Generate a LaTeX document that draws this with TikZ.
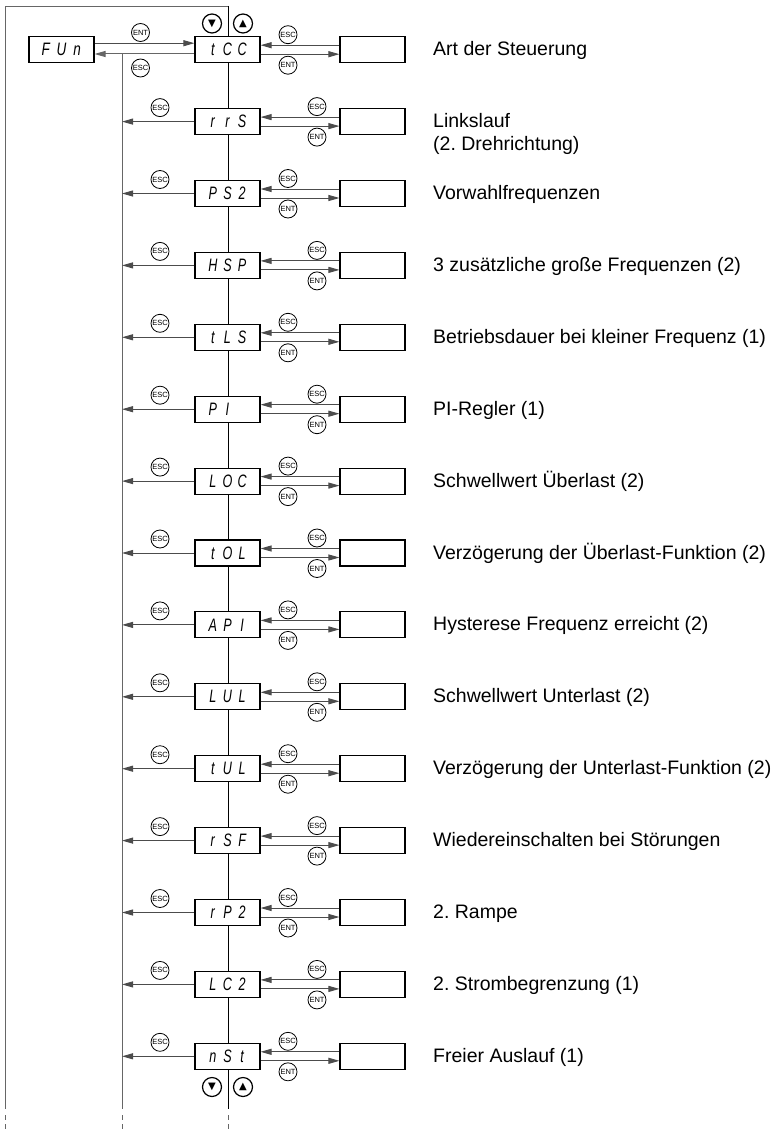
\documentclass[tikz,border=0pt]{standalone}
\usepackage{fontspec}
\setmainfont{Liberation Sans}
\newfontfamily\symfont{DejaVu Sans}
\usetikzlibrary{arrows.meta}
\frenchspacing
\newcommand\segd[3]{\scalebox{0.7}[1]{\itshape\makebox[21pt]{#1}\makebox[21pt]{#2}\makebox[21pt]{#3}}}
\tikzset{
  disp/.style={draw=black, line width=1.1pt, fill=white, minimum width=65pt, minimum height=26pt, inner sep=0pt, font=\fontsize{18}{18}\selectfont},
  rbox/.style={draw=black, line width=1.1pt, fill=white, minimum width=65pt, minimum height=26pt, inner sep=0pt},
  keyc/.style={circle, draw=black, line width=0.8pt, fill=white, minimum size=18pt, inner sep=0pt, font=\fontsize{7.5}{7.5}\selectfont},
  navc/.style={circle, draw=black, line width=1.2pt, fill=white, minimum size=19pt, inner sep=0pt, font=\symfont\fontsize{10}{10}\selectfont},
  arr/.style={draw=black!70, line width=1pt, -{Triangle[length=11pt,width=6pt]}},
  frame/.style={draw=black!60, line width=0.9pt},
  mainline/.style={draw=black, line width=0.9pt},
  lab/.style={anchor=base west, inner sep=0pt, font=\fontsize{19.5}{23}\selectfont}
}
\begin{document}
\begin{tikzpicture}[x=1pt,y=-1pt]
\useasboundingbox (0,0) rectangle (782,1129);
% frame lines
\draw[frame] (5.5,1109) -- (5.5,6) -- (228,6);
\draw[mainline] (228,6) -- (228,1109);
\draw[frame] (122,54) -- (122,1109);
\foreach \xx in {5.5,122,228}{
  \draw[frame] (\xx,1115) -- (\xx,1119.5);
  \draw[frame] (\xx,1124) -- (\xx,1129);
}
% FUn box
\node[disp] (fun) at (61.5,49.7) {\scalebox{1.07}[1]{\segd{F}{U}{n}}};
% rows
\foreach \k/\a/\b/\c/\cx/\lab in {
 0/t/C/C/288/{Art der Steuerung},
 1/r/r/S/317/{\begin{tabular}[t]{@{}l@{}}Linkslauf\\(2. Drehrichtung)\end{tabular}},
 2/P/S/2/288/{Vorwahlfrequenzen},
 3/H/S/P/317/{3 zusätzliche große Frequenzen (2)},
 4/t/L/S/288/{Betriebsdauer bei kleiner Frequenz (1)},
 5/P/I/{}/317/{PI-Regler (1)},
 6/L/O/C/288/{Schwellwert Überlast (2)},
 7/t/O/L/317/{Verzögerung der Überlast-Funktion (2)},
 8/A/P/I/288/{Hysterese Frequenz erreicht (2)},
 9/L/U/L/317/{Schwellwert Unterlast (2)},
 10/t/U/L/288/{Verzögerung der Unterlast-Funktion (2)},
 11/r/S/F/317/{Wiedereinschalten bei Störungen},
 12/r/P/2/288/{2. Rampe},
 13/L/C/2/317/{2. Strombegrenzung (1)},
 14/n/S/t/288/{Freier Auslauf (1)}}{
  \pgfmathsetmacro\yc{49.7+71.9*\k}
  \node[disp] (d\k) at (227.5,\yc) {\segd{\a}{\b}{\c}};
  \node[rbox] (r\k) at (372.5,\yc) {};
  \draw[arr] ([yshift=4.5pt]r\k.west) -- ([yshift=4.5pt]d\k.east);
  \draw[arr] ([yshift=-4.5pt]d\k.east) -- ([yshift=-4.5pt]r\k.west);
  \node[keyc] (esc\k) at (\cx,\yc-15) {ESC};
  \node[keyc] (ent\k) at (\cx,\yc+15.5) {ENT};
  \node[lab] (t\k) at (433,\yc+6) {\lab};
  \ifnum\k>0
    \coordinate (ret\k) at (122,\yc);
    \draw[arr] (d\k.west) -- (ret\k);
    \node[keyc] (lesc\k) at (160,\yc-14) {ESC};
  \fi
}
% first row connections with FUn
\draw[arr] ([yshift=6.5pt]fun.east) -- ([yshift=6.5pt]d0.west);
\draw[arr, draw=black!60] ([yshift=-4.3pt]d0.west) -- ([yshift=-4.3pt]fun.east);
\node[keyc] (lent0) at (140.5,32.5) {ENT};
\node[keyc] (lesc0) at (140.5,68) {ESC};
% navigation keys
\node[navc] (dn1) at (212,23.5) {▼};
\node[navc] (up1) at (243,23.5) {▲};
\node[navc] (dn2) at (212,1087) {▼};
\node[navc] (up2) at (243,1087) {▲};
\end{tikzpicture}
\end{document}
